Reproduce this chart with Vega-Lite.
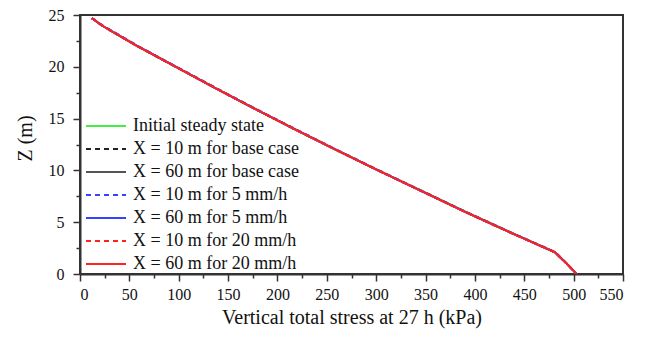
{
  "$schema": "https://vega.github.io/schema/vega-lite/v6.json",
  "width": 543,
  "height": 259,
  "autosize": "none",
  "padding": {"left": 80, "top": 15, "right": 24, "bottom": 64},
  "background": "white",
  "config": {
    "font": "Liberation Serif",
    "view": {"stroke": "#333", "strokeWidth": 2},
    "axis": {
      "grid": false,
      "domainColor": "#333",
      "domainWidth": 2,
      "tickColor": "#333",
      "tickWidth": 1.5,
      "labelFont": "Liberation Serif",
      "labelFontSize": 16,
      "labelColor": "#111",
      "titleFont": "Liberation Serif",
      "titleFontSize": 20,
      "titleFontWeight": "normal",
      "titleColor": "#111",
      "labelOverlap": false
    }
  },
  "data": {
    "values": [
      {"z": 24.7, "Initial steady state": 12, "X = 10 m for base case": 12, "X = 60 m for base case": 12, "X = 10 m for 5 mm/h": 12, "X = 60 m for 5 mm/h": 12, "X = 10 m for 20 mm/h": 12, "X = 60 m for 20 mm/h": 12},
      {"z": 24.0, "Initial steady state": 22, "X = 10 m for base case": 22, "X = 60 m for base case": 22, "X = 10 m for 5 mm/h": 23, "X = 60 m for 5 mm/h": 22, "X = 10 m for 20 mm/h": 22, "X = 60 m for 20 mm/h": 22},
      {"z": 23.0, "Initial steady state": 40, "X = 10 m for base case": 40, "X = 60 m for base case": 40, "X = 10 m for 5 mm/h": 41, "X = 60 m for 5 mm/h": 40, "X = 10 m for 20 mm/h": 40, "X = 60 m for 20 mm/h": 40},
      {"z": 22.0, "Initial steady state": 58, "X = 10 m for base case": 58, "X = 60 m for base case": 58, "X = 10 m for 5 mm/h": 59, "X = 60 m for 5 mm/h": 58, "X = 10 m for 20 mm/h": 58, "X = 60 m for 20 mm/h": 58},
      {"z": 20.0, "Initial steady state": 97, "X = 10 m for base case": 97, "X = 60 m for base case": 97, "X = 10 m for 5 mm/h": 98, "X = 60 m for 5 mm/h": 97, "X = 10 m for 20 mm/h": 97, "X = 60 m for 20 mm/h": 97},
      {"z": 18.0, "Initial steady state": 136, "X = 10 m for base case": 136, "X = 60 m for base case": 136, "X = 10 m for 5 mm/h": 137, "X = 60 m for 5 mm/h": 136, "X = 10 m for 20 mm/h": 136, "X = 60 m for 20 mm/h": 136},
      {"z": 16.0, "Initial steady state": 176, "X = 10 m for base case": 176, "X = 60 m for base case": 176, "X = 10 m for 5 mm/h": 177, "X = 60 m for 5 mm/h": 176, "X = 10 m for 20 mm/h": 176, "X = 60 m for 20 mm/h": 176},
      {"z": 14.0, "Initial steady state": 217, "X = 10 m for base case": 217, "X = 60 m for base case": 217, "X = 10 m for 5 mm/h": 218, "X = 60 m for 5 mm/h": 217, "X = 10 m for 20 mm/h": 217, "X = 60 m for 20 mm/h": 217},
      {"z": 12.0, "Initial steady state": 259, "X = 10 m for base case": 259, "X = 60 m for base case": 259, "X = 10 m for 5 mm/h": 260, "X = 60 m for 5 mm/h": 259, "X = 10 m for 20 mm/h": 259, "X = 60 m for 20 mm/h": 259},
      {"z": 10.0, "Initial steady state": 302, "X = 10 m for base case": 302, "X = 60 m for base case": 302, "X = 10 m for 5 mm/h": 303, "X = 60 m for 5 mm/h": 302, "X = 10 m for 20 mm/h": 302, "X = 60 m for 20 mm/h": 302},
      {"z": 8.0, "Initial steady state": 347, "X = 10 m for base case": 346, "X = 60 m for base case": 346, "X = 10 m for 5 mm/h": 347, "X = 60 m for 5 mm/h": 346, "X = 10 m for 20 mm/h": 346, "X = 60 m for 20 mm/h": 346},
      {"z": 6.0, "Initial steady state": 391, "X = 10 m for base case": 390, "X = 60 m for base case": 390, "X = 10 m for 5 mm/h": 391, "X = 60 m for 5 mm/h": 390, "X = 10 m for 20 mm/h": 390, "X = 60 m for 20 mm/h": 390},
      {"z": 4.0, "Initial steady state": 437, "X = 10 m for base case": 436, "X = 60 m for base case": 436, "X = 10 m for 5 mm/h": 437, "X = 60 m for 5 mm/h": 436, "X = 10 m for 20 mm/h": 436, "X = 60 m for 20 mm/h": 436},
      {"z": 2.1, "Initial steady state": 481, "X = 10 m for base case": 481, "X = 60 m for base case": 481, "X = 10 m for 5 mm/h": 482, "X = 60 m for 5 mm/h": 481, "X = 10 m for 20 mm/h": 481, "X = 60 m for 20 mm/h": 481},
      {"z": 1.0, "Initial steady state": 493, "X = 10 m for base case": 493, "X = 60 m for base case": 493, "X = 10 m for 5 mm/h": 493, "X = 60 m for 5 mm/h": 493, "X = 10 m for 20 mm/h": 493, "X = 60 m for 20 mm/h": 493},
      {"z": 0.0, "Initial steady state": 503, "X = 10 m for base case": 503, "X = 60 m for base case": 503, "X = 10 m for 5 mm/h": 503, "X = 60 m for 5 mm/h": 503, "X = 10 m for 20 mm/h": 503, "X = 60 m for 20 mm/h": 503}
    ]
  },
  "transform": [
    {"fold": ["Initial steady state", "X = 10 m for base case", "X = 60 m for base case", "X = 10 m for 5 mm/h", "X = 60 m for 5 mm/h", "X = 10 m for 20 mm/h", "X = 60 m for 20 mm/h"], "as": ["series", "s"]}
  ],
  "mark": {"type": "line", "strokeWidth": 2, "clip": true},
  "encoding": {
    "x": {
      "field": "s",
      "type": "quantitative",
      "scale": {"domain": [0, 550], "nice": false},
      "axis": {
        "title": "Vertical total stress at 27 h (kPa)",
        "values": [0, 25, 50, 75, 100, 125, 150, 175, 200, 225, 250, 275, 300, 325, 350, 375, 400, 425, 450, 475, 500, 525, 550],
        "labelExpr": "datum.value % 50 === 0 ? datum.label : ''",
        "tickSize": {"condition": {"test": "datum.value % 50 === 0", "value": 7}, "value": 4},
        "labelPadding": 5,
        "titlePadding": 5
      }
    },
    "y": {
      "field": "z",
      "type": "quantitative",
      "scale": {"domain": [0, 25], "nice": false},
      "axis": {
        "title": "Z (m)",
        "values": [0, 2.5, 5, 7.5, 10, 12.5, 15, 17.5, 20, 22.5, 25],
        "labelExpr": "datum.value % 5 === 0 ? datum.label : ''",
        "tickSize": {"condition": {"test": "datum.value % 5 === 0", "value": 7}, "value": 4},
        "labelPadding": 9,
        "titlePadding": 13,
        "titleY": 123
      }
    },
    "order": {"field": "z", "sort": "descending"},
    "color": {
      "field": "series",
      "type": "nominal",
      "scale": {
        "domain": ["Initial steady state", "X = 10 m for base case", "X = 60 m for base case", "X = 10 m for 5 mm/h", "X = 60 m for 5 mm/h", "X = 10 m for 20 mm/h", "X = 60 m for 20 mm/h"],
        "range": ["#44ee44", "#222222", "#555555", "#3344ff", "#3344ff", "#ff2222", "#ff2222"]
      },
      "legend": {
        "title": null,
        "orient": "none",
        "legendX": 15,
        "legendY": 100,
        "symbolType": "M-2,0H2",
        "symbolSize": 400,
        "symbolStrokeWidth": 2,
        "labelFont": "Liberation Serif",
        "labelFontSize": 18,
        "labelColor": "#111",
        "labelOffset": 16,
        "labelLimit": 400,
        "rowPadding": 3,
        "padding": 0
      }
    },
    "strokeDash": {
      "field": "series",
      "type": "nominal",
      "scale": {
        "domain": ["Initial steady state", "X = 10 m for base case", "X = 60 m for base case", "X = 10 m for 5 mm/h", "X = 60 m for 5 mm/h", "X = 10 m for 20 mm/h", "X = 60 m for 20 mm/h"],
        "range": [[1, 0], [5, 4], [1, 0], [5, 4], [1, 0], [5, 4], [1, 0]]
      },
      "legend": null
    }
  }
}
